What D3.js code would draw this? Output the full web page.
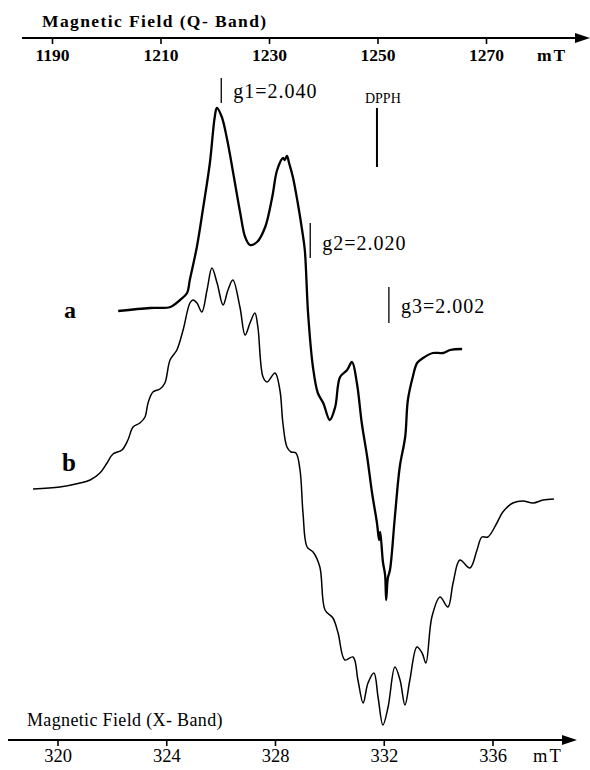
<!DOCTYPE html>
<html>
<head>
<meta charset="utf-8">
<script src="https://cdn.jsdelivr.net/npm/d3@7/dist/d3.min.js"></script>
<style>
  body { margin: 0; background: #fff; }
  svg { display: block; font-family: "Liberation Serif", "Times New Roman", serif; }
</style>
</head>
<body>
<div id="chart"></div>
<script>
// ---- data ----
// trace a : Q-band, field in mT, first-derivative signal (arb. units)
var fieldA = [1202.2, 1208.1, 1211.8, 1213.6, 1214.9, 1215.4, 1216.7, 1217.8, 1219.1, 1220.0,
  1220.4, 1221.3, 1222.3, 1223.4, 1224.7, 1225.6, 1226.5, 1227.8, 1229.3, 1230.6,
  1231.5, 1232.6, 1232.9, 1233.3, 1233.7, 1234.4, 1235.3, 1236.1, 1236.6, 1237.2,
  1238.1, 1239.0, 1240.0, 1241.2, 1242.2, 1243.1, 1244.4, 1245.3, 1246.2, 1247.1,
  1248.1, 1249.0, 1249.9, 1250.3, 1250.5, 1251.0, 1251.4, 1251.6, 1251.9, 1252.3,
  1253.2, 1254.1, 1255.1, 1255.6, 1256.5, 1257.3, 1258.4, 1260.2, 1262.1, 1263.4, 1265.6];
var signalA = [0, 1.5, 2, 5.5, 9, 15.5, 32, 50.5, 74, 97,
  101.5, 97, 85.5, 69, 49, 37, 33, 34.5, 42, 57,
  70.5, 76.5, 75.5, 77.5, 74, 67, 54, 40.5, 30.5, -1,
  -28, -41, -46, -54.5, -48, -33, -29.5, -25.5, -36, -56,
  -73, -91, -106, -114.5, -110.5, -125.5, -132, -144.5, -133.5, -129.5,
  -103, -78, -63, -44.5, -33, -26, -23.5, -21, -21, -19.5, -19];

// trace b : X-band, field in mT, first-derivative signal (arb. units)
var fieldB = [319.10, 320.09, 320.83, 321.20, 321.56, 321.82, 322.04, 322.37, 322.59, 322.78,
  323.03, 323.22, 323.33, 323.51, 323.77, 323.95, 324.14, 324.39, 324.62, 324.87,
  324.98, 325.13, 325.31, 325.50, 325.68, 325.87, 326.09, 326.27, 326.45, 326.71,
  326.90, 327.08, 327.26, 327.37, 327.56, 327.71, 328.00, 328.18, 328.29, 328.44,
  328.59, 328.77, 328.92, 329.03, 329.18, 329.40, 329.65, 329.84, 330.13, 330.32,
  330.57, 330.87, 331.05, 331.24, 331.42, 331.64, 331.79, 331.97, 332.16, 332.41,
  332.60, 332.78, 332.96, 333.22, 333.41, 333.55, 333.77, 334.07, 334.36, 334.55,
  334.80, 335.17, 335.43, 335.61, 335.83, 336.16, 336.38, 336.75, 337.12, 337.49,
  337.86, 338.26];
var signalB = [0, 1, 3, 4.5, 8, 13, 17.5, 19.5, 24.5, 31,
  33, 36, 43, 48.5, 50, 53, 64.5, 69.5, 79.5, 93,
  94.5, 93, 88.5, 99.5, 110.5, 103, 92, 99.5, 104.5, 91,
  77, 83, 88, 81, 56, 53.5, 58, 49.5, 33, 21,
  18.5, 18, 9.5, -12, -29, -31.5, -39, -60.5, -64.5, -72,
  -85.5, -84, -95.5, -107, -97, -92, -104, -118, -109, -89,
  -95.5, -108, -95.5, -79, -82, -87, -64, -54, -59, -47,
  -35.5, -39.5, -30.5, -24, -24, -17, -11.5, -7, -6, -7,
  -5.5, -5];

var ticksQ = [1190, 1210, 1230, 1250, 1270];
var ticksX = [320, 324, 328, 332, 336];

// g-value markers (Q-band field, mT)
var gLabels = ["g1=2.040", "g2=2.020", "g3=2.002"];
var gFields = [1221.2, 1237.6, 1252.1];
var dpphField = 1249.9;

/*
 * EprChart - draws both spectra on a shared page
 */
EprChart = function(_parentElement){
  this.parentElement = _parentElement;
  this.initVis();
}

EprChart.prototype.initVis = function(){
  var vis = this;
  vis.width = 590;
  vis.height = 770;

  vis.svg = d3.select("#" + vis.parentElement).append("svg")
    .attr("width", vis.width)
    .attr("height", vis.height);

  // Scales
  vis.xQ = d3.scaleLinear().domain([1190, 1270]).range([52, 486]);
  vis.xX = d3.scaleLinear().domain([320, 336]).range([57.5, 492.5]);
  vis.yA = d3.scaleLinear().domain([0, 100]).range([311, 111]);
  vis.yB = d3.scaleLinear().domain([0, 100]).range([489, 289]);

  vis.drawAxes();
  vis.updateVis();
}

EprChart.prototype.drawAxes = function(){
  var vis = this;

  // top axis (Q-band)
  var topY = 38;
  var gTop = vis.svg.append("g")
    .attr("transform", "translate(0," + topY + ")")
    .call(d3.axisBottom(vis.xQ).tickValues(ticksQ).tickSize(6).tickSizeOuter(0).tickFormat(d3.format("d")));
  gTop.select(".domain").remove();
  gTop.selectAll(".tick line").attr("stroke", "#000").attr("stroke-width", 1.6);
  gTop.selectAll(".tick text")
    .attr("dy", null).attr("y", 23)
    .attr("font-family", "Liberation Serif, serif")
    .attr("font-size", 17.5).attr("font-weight", "bold").attr("fill", "#000");

  vis.arrowLine(22, 590, topY);

  vis.svg.append("text")
    .attr("x", 42).attr("y", 27)
    .attr("font-size", 17.5).attr("font-weight", "bold")
    .attr("letter-spacing", 1.4)
    .text("Magnetic Field (Q- Band)");
  vis.svg.append("text")
    .attr("x", 537).attr("y", 61)
    .attr("font-size", 17.5).attr("font-weight", "bold")
    .attr("letter-spacing", 2)
    .text("mT");

  // bottom axis (X-band)
  var botY = 740;
  var gBot = vis.svg.append("g")
    .attr("transform", "translate(0," + botY + ")")
    .call(d3.axisBottom(vis.xX).tickValues(ticksX).tickSize(6).tickSizeOuter(0).tickFormat(d3.format("d")));
  gBot.select(".domain").remove();
  gBot.selectAll(".tick line").attr("stroke", "#000").attr("stroke-width", 1.6);
  gBot.selectAll(".tick text")
    .attr("dy", null).attr("y", 22)
    .attr("font-family", "Liberation Serif, serif")
    .attr("font-size", 18.5).attr("fill", "#000");

  vis.arrowLine(8, 577, botY);

  vis.svg.append("text")
    .attr("x", 27).attr("y", 726)
    .attr("font-size", 18)
    .attr("letter-spacing", 0.35)
    .text("Magnetic Field (X- Band)");
  vis.svg.append("text")
    .attr("x", 533).attr("y", 762)
    .attr("font-size", 18.5)
    .attr("letter-spacing", 2)
    .text("mT");
}

// horizontal axis line ending in a filled arrow head
EprChart.prototype.arrowLine = function(x0, x1, y){
  var vis = this;
  vis.svg.append("line")
    .attr("x1", x0).attr("x2", x1 - 12)
    .attr("y1", y).attr("y2", y)
    .attr("stroke", "#000").attr("stroke-width", 2);
  vis.svg.append("path")
    .attr("d", "M" + (x1 - 15) + "," + (y - 5) + "L" + x1 + "," + y + "L" + (x1 - 15) + "," + (y + 5) + "Z")
    .attr("fill", "#000");
}

EprChart.prototype.updateVis = function(){
  var vis = this;

  var ptsA = fieldA.map(function(f, i){ return [f, signalA[i]]; });
  var ptsB = fieldB.map(function(f, i){ return [f, signalB[i]]; });

  var lineA = d3.line()
    .x(function(d){ return vis.xQ(d[0]); })
    .y(function(d){ return vis.yA(d[1]); })
    .curve(d3.curveCatmullRom.alpha(0.5));
  var lineB = d3.line()
    .x(function(d){ return vis.xX(d[0]); })
    .y(function(d){ return vis.yB(d[1]); })
    .curve(d3.curveCatmullRom.alpha(0.5));

  vis.svg.append("path")
    .datum(ptsB)
    .attr("d", lineB)
    .attr("fill", "none").attr("stroke", "#000")
    .attr("stroke-width", 1.5).attr("stroke-linejoin", "round");

  vis.svg.append("path")
    .datum(ptsA)
    .attr("d", lineA)
    .attr("fill", "none").attr("stroke", "#000")
    .attr("stroke-width", 2.3).attr("stroke-linejoin", "round");

  // trace labels
  vis.svg.append("text").attr("x", 64).attr("y", 318)
    .attr("font-size", 24).attr("font-weight", "bold").text("a");
  vis.svg.append("text").attr("x", 62).attr("y", 471)
    .attr("font-size", 25).attr("font-weight", "bold").text("b");

  // g markers: vertical tick + label (layout offsets in px)
  var markLayout = [
    { top: 78, bottom: 103, ty: 98 },
    { top: 223, bottom: 258, ty: 250 },
    { top: 287, bottom: 323, ty: 313 }
  ];
  var marks = vis.svg.selectAll(".gmark")
    .data(gFields)
    .enter().append("g")
    .attr("class", "gmark");
  marks.append("line")
    .attr("x1", function(d){ return vis.xQ(d); })
    .attr("x2", function(d){ return vis.xQ(d); })
    .attr("y1", function(d, i){ return markLayout[i].top; })
    .attr("y2", function(d, i){ return markLayout[i].bottom; })
    .attr("stroke", "#000").attr("stroke-width", 1.3);
  marks.append("text")
    .attr("x", function(d){ return vis.xQ(d) + 12; })
    .attr("y", function(d, i){ return markLayout[i].ty; })
    .attr("font-size", 20).attr("letter-spacing", 1)
    .text(function(d, i){ return gLabels[i]; });

  // DPPH reference
  vis.svg.append("line")
    .attr("x1", vis.xQ(dpphField)).attr("x2", vis.xQ(dpphField))
    .attr("y1", 108).attr("y2", 167)
    .attr("stroke", "#000").attr("stroke-width", 2);
  vis.svg.append("text")
    .attr("x", vis.xQ(dpphField) - 12).attr("y", 103)
    .attr("font-size", 14)
    .text("DPPH");
}

new EprChart("chart");
</script>
</body>
</html>
